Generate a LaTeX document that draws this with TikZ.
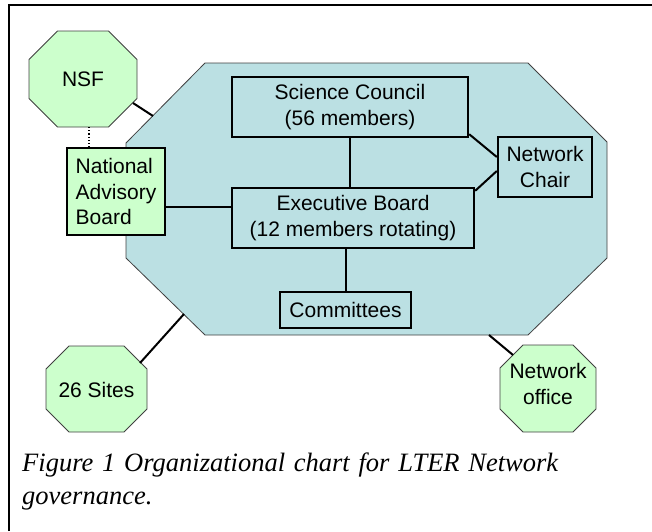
\documentclass[tikz,border=0pt]{standalone}
\usepackage{fontspec}
\setmainfont{Liberation Sans}
\newfontfamily\capfont{Liberation Serif}
\usepackage{xcolor}
\usepackage{tikz}
\definecolor{paleblue}{HTML}{BBE0E3}
\definecolor{palegreen}{HTML}{CCFFCC}

\begin{document}
\begin{tikzpicture}[x=1pt,y=-1pt,font=\fontsize{21}{25.5}\selectfont]
\tikzstyle{octa}=[draw=black!75,line width=0.8pt]
\tikzstyle{block}=[rectangle,draw=black,line width=2.4pt,inner sep=0pt,align=center]
\tikzstyle{link}=[line width=2pt]
\useasboundingbox (0,0) rectangle (652,531);
\draw[line width=2.6pt] (9,531) -- (9,5) -- (652,5);
\filldraw[octa,fill=paleblue] (205,63) -- (528,63) -- (607,142) -- (607,258) -- (528,335) -- (205,335) -- (126,258) -- (126,143) -- cycle;
\filldraw[octa,fill=palegreen] (57.5,31) -- (108.5,31) -- (137,59.5) -- (137,98.5) -- (108.5,127) -- (57.5,127) -- (29,98.5) -- (29,59.5) -- cycle;
\filldraw[octa,fill=palegreen] (69,346) -- (124,346) -- (147,369) -- (147,409) -- (124,432) -- (69,432) -- (46,409) -- (46,369) -- cycle;
\filldraw[octa,fill=palegreen] (523,345) -- (573,345) -- (596,368) -- (596,409) -- (573,432) -- (523,432) -- (500,409) -- (500,368) -- cycle;
\node (nsf) at (83,79.5) {NSF};
\node (sites) at (96.5,389.5) {26 Sites};
\node[align=center] (office) at (548,384) {Network\\office};
\node[block,fill=palegreen,align=left,minimum width=98,minimum height=87] (nab) at (116,191.5) {National\\Advisory\\Board};
\node[block,minimum width=236,minimum height=60] (sc) at (350,107) {Science Council\\(56 members)};
\node[block,minimum width=242,minimum height=60] (eb) at (353,218) {Executive Board\\(12 members rotating)};
\node[block,minimum width=94,minimum height=60] (nc) at (545,167) {Network\\Chair};
\node[block,minimum width=131,minimum height=36] (com) at (345.5,310) {Committees};
\coordinate (nsf-s) at (89,127);
\coordinate (nsf-se) at (133,103);
\coordinate (core-nw) at (153,116);
\coordinate (sites-ne) at (140,363);
\coordinate (core-sw) at (184,314);
\coordinate (core-s) at (489,335);
\coordinate (office-nw) at (513,355);
\draw[dotted,line width=1.2pt] (nsf-s) -- (nsf-s |- nab.north);
\draw[link] (nsf-se) -- (core-nw);
\draw[link] (sites-ne) -- (core-sw);
\draw[link] (core-s) -- (office-nw);
\draw[link] ([yshift=-15.5pt]nab.east) -- ([yshift=11pt]eb.west);
\draw[link] (sc.south) -- (sc.south |- eb.north);
\draw[link] (com.north) -- (com.north |- eb.south);
\draw[link] ([yshift=4pt]sc.south east) -- ([yshift=10pt]nc.west);
\draw[link] ([yshift=-4pt]eb.north east) -- ([yshift=-4pt]nc.west);
\node[anchor=north west,text width=536pt,align=justify,inner sep=0pt,font=\capfont\itshape\fontsize{26.5}{33}\selectfont] (cap) at (22,453) {Figure 1 Organizational chart for LTER Network governance.};
\end{tikzpicture}
\end{document}
